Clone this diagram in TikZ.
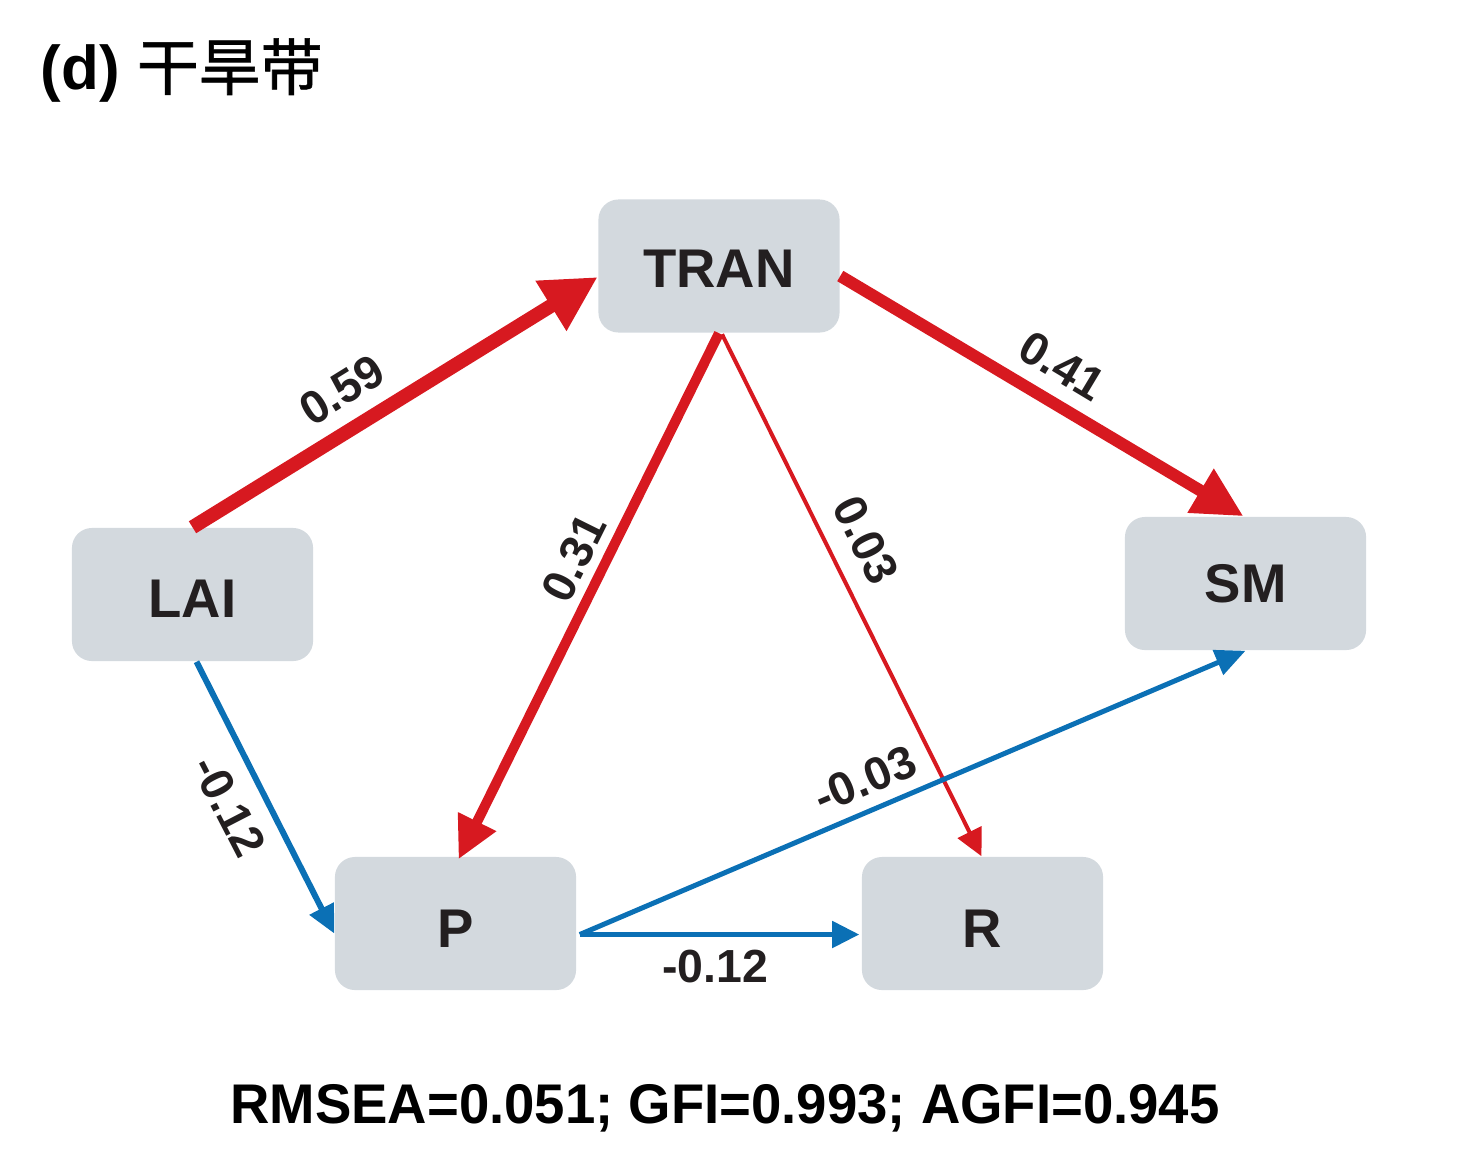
\documentclass[tikz,border=0pt]{standalone}
\usepackage{fontspec}
\setmainfont{Liberation Sans}
\newfontfamily\cjk[FakeBold=1]{Noto Sans CJK SC}
\usetikzlibrary{arrows.meta,calc}
\definecolor{boxfill}{HTML}{D3D9DE}
\definecolor{redarr}{HTML}{D71920}
\definecolor{bluearr}{HTML}{0B70B5}
\definecolor{txt}{HTML}{231F20}
\newcommand{\lowertext}[2]{\raisebox{-#1}[\height][\depth]{#2}}
\begin{document}
\begin{tikzpicture}[x=0.01cm,y=-0.01cm,
  var/.style={rectangle, rounded corners=0.2cm, fill=boxfill, minimum width=2.41cm, minimum height=1.33cm,
    font=\fontsize{15.5}{18}\selectfont\bfseries, text=txt, inner sep=0pt},
  coef/.style={font=\fontsize{13.2}{15}\selectfont\bfseries, text=txt, inner sep=0pt},
  redpath/.style={draw=redarr, line cap=butt},
  bluepath/.style={draw=bluearr, line cap=butt}]
\useasboundingbox (0,0) rectangle (1474,1170);

% variables
\node[var] (TRAN) at (719,266) {\lowertext{0.025cm}{TRAN}};
\node[var] (LAI) at (192.5,594.5) {\lowertext{0.04cm}{LAI}};
\node[var] (SM) at (1245.5,583.5) {SM};
\node[var] (P) at (455.5,923.5) {\lowertext{0.05cm}{P}};
\node[var] (R) at (982.5,923.5) {\lowertext{0.05cm}{R}};

% paths
\draw[redpath, line width=0.14cm, -{Triangle[length=0.55cm,width=0.55cm]}]
  (LAI.north) -- ($(TRAN.west)+(0,11)$);
\draw[redpath, line width=0.12cm, -{Triangle[length=0.5cm,width=0.48cm]}]
  ($(TRAN.east)+(0,10)$) -- ($(SM.north)+(-2,0)$);
\draw[redpath, line width=0.10cm, -{Triangle[length=0.42cm,width=0.40cm]}]
  (TRAN.south) -- ($(P.north)+(3,3)$);
\draw[redpath, line width=0.04cm, -{Triangle[length=0.27cm,width=0.26cm]}]
  ($(TRAN.south)+(3,1)$) -- ($(R.north)+(-1,0)$);
\draw[bluepath, line width=0.06cm, -{Triangle[length=0.28cm,width=0.26cm]}]
  ($(LAI.south)+(4,0)$) -- ($(P.west)+(0,10)$);
\draw[bluepath, line width=0.05cm, -{Triangle[length=0.30cm,width=0.26cm]}]
  ($(P.east)+(3,11)$) -- (SM.south);
\draw[bluepath, line width=0.05cm, -{Triangle[length=0.27cm,width=0.26cm]}]
  ($(P.east)+(3,11)$) -- ($(R.west)+(-2,11)$);

% coefficients
\node[coef, rotate=31.8] (c1) at (342,390) {0.59};
\node[coef, rotate=-31] (c2) at (1062,366) {0.41};
\node[coef, rotate=63.6] (c3) at (574,558) {0.31};
\node[coef, rotate=-63.7] (c4) at (866,540) {0.03};
\node[coef, rotate=-62.7] (c5) at (229,806) {-0.12};
\node[coef, rotate=23.2] (c6) at (865,779) {-0.03};
\node[coef] (c7) at (715,966) {-0.12};

% title and fit indices
\node[anchor=base west, inner sep=0pt, font=\fontsize{17.6}{20}\selectfont\bfseries] (title) at (40,90) {(d) {\cjk\mdseries 干旱带}};
\node[anchor=base, inner sep=0pt, font=\fontsize{15.9}{18}\selectfont\bfseries] (fit) at (725,1123)
  {\scalebox{0.975}[1]{RMSEA=0.051; GFI=0.993; AGFI=0.945}};
\end{tikzpicture}
\end{document}
